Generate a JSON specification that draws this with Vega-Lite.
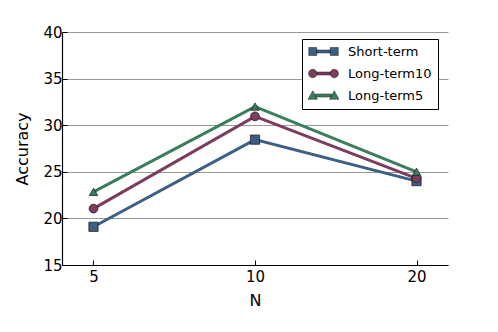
{
  "$schema": "https://vega.github.io/schema/vega-lite/v6.json",
  "width": 386,
  "height": 233,
  "autosize": "none",
  "padding": {"left": 62, "top": 32, "right": 50, "bottom": 67},
  "background": "white",
  "config": {
    "font": "DejaVu Sans",
    "view": {"stroke": null}
  },
  "data": {
    "values": [
      {"N": "5", "series": "Short-term", "acc": 19.1},
      {"N": "10", "series": "Short-term", "acc": 28.45},
      {"N": "20", "series": "Short-term", "acc": 24.0},
      {"N": "5", "series": "Long-term10", "acc": 21.05},
      {"N": "10", "series": "Long-term10", "acc": 30.95},
      {"N": "20", "series": "Long-term10", "acc": 24.3},
      {"N": "5", "series": "Long-term5", "acc": 22.85},
      {"N": "10", "series": "Long-term5", "acc": 32.0},
      {"N": "20", "series": "Long-term5", "acc": 25.0}
    ]
  },
  "encoding": {
    "x": {
      "field": "N", "type": "ordinal", "sort": ["5", "10", "20"],
      "scale": {"type": "point", "padding": 0.195},
      "axis": {
        "title": "N", "titleFontSize": 16, "titleFontWeight": "normal", "titleColor": "black", "titlePadding": 8,
        "labelFontSize": 15, "labelColor": "black", "labelAngle": 0, "labelPadding": 9,
        "domainColor": "black", "domainWidth": 1.2,
        "tickColor": "black", "tickSize": -5, "tickWidth": 1,
        "grid": false
      }
    },
    "y": {
      "field": "acc", "type": "quantitative",
      "scale": {"domain": [15, 40], "nice": false, "zero": false},
      "axis": {
        "title": "Accuracy", "titleFontSize": 16, "titleFontWeight": "normal", "titleColor": "black", "titlePadding": 12,
        "labelFontSize": 15, "labelColor": "black", "labelPadding": 5,
        "values": [15, 20, 25, 30, 35, 40],
        "domainColor": "black", "domainWidth": 1.2,
        "tickColor": "black", "tickSize": -5, "tickWidth": 1,
        "grid": true, "gridColor": "#999999", "gridWidth": 1, "gridOpacity": 1
      }
    }
  },
  "layer": [
    {
      "mark": {"type": "line", "strokeWidth": 3},
      "encoding": {
        "color": {
          "field": "series", "type": "nominal",
          "scale": {"domain": ["Short-term", "Long-term10", "Long-term5"], "range": ["#3b5f85", "#7e3b60", "#3a7e5c"]},
          "legend": null
        }
      }
    },
    {
      "mark": {"type": "point", "filled": true, "opacity": 1, "stroke": "#222222", "strokeWidth": 0.8},
      "encoding": {
        "color": {"field": "series", "type": "nominal", "legend": null},
        "shape": {
          "field": "series", "type": "nominal",
          "scale": {"domain": ["Short-term", "Long-term10", "Long-term5"], "range": ["square", "circle", "triangle-up"]},
          "legend": null
        },
        "size": {
          "field": "series", "type": "nominal",
          "scale": {"domain": ["Short-term", "Long-term10", "Long-term5"], "range": [85, 70, 90]},
          "legend": null
        }
      }
    },
    {
      "transform": [{"filter": "datum.acc < 0"}],
      "mark": {"type": "point", "filled": true, "opacity": 1},
      "encoding": {
        "shape": {
          "field": "series", "type": "nominal",
          "scale": {
            "domain": ["Short-term", "Long-term10", "Long-term5"],
            "range": [
              "M-2.95,-0.8H-1.35V0.8H-2.95Z M1.35,-0.8H2.95V0.8H1.35Z M-1.35,-0.3H1.35V0.3H-1.35Z",
              "M-3,0A0.85,0.85 0 1,0 -1.3,0A0.85,0.85 0 1,0 -3,0Z M1.3,0A0.85,0.85 0 1,0 3,0A0.85,0.85 0 1,0 1.3,0Z M-1.3,-0.3H1.3V0.3H-1.3Z",
              "M-2.15,-0.95L-1.2,0.75L-3.1,0.75Z M2.15,-0.95L3.1,0.75L1.2,0.75Z M-1.6,-0.3H1.6V0.3H-1.6Z"
            ]
          },
          "legend": {
            "title": null,
            "orient": "none",
            "legendX": 240,
            "legendY": 7,
            "padding": 6,
            "strokeColor": "black",
            "fillColor": "white",
            "cornerRadius": 0,
            "symbolSize": 100,
            "symbolOffset": 9,
            "symbolStrokeColor": "#222222",
            "symbolStrokeWidth": 0.5,
            "labelFontSize": 13,
            "labelColor": "black",
            "labelOffset": 18,
            "rowPadding": 8,
            "labelLimit": 200
          }
        },
        "color": {
          "field": "series", "type": "nominal",
          "legend": {
            "title": null,
            "orient": "none",
            "legendX": 240,
            "legendY": 7,
            "padding": 6,
            "strokeColor": "black",
            "fillColor": "white",
            "cornerRadius": 0,
            "symbolSize": 100,
            "symbolOffset": 9,
            "symbolStrokeColor": "#222222",
            "symbolStrokeWidth": 0.5,
            "labelFontSize": 13,
            "labelColor": "black",
            "labelOffset": 18,
            "rowPadding": 8,
            "labelLimit": 200
          }
        }
      }
    }
  ],
  "resolve": {
    "scale": {"shape": "independent"},
    "legend": {"color": "independent", "shape": "independent"}
  }
}
